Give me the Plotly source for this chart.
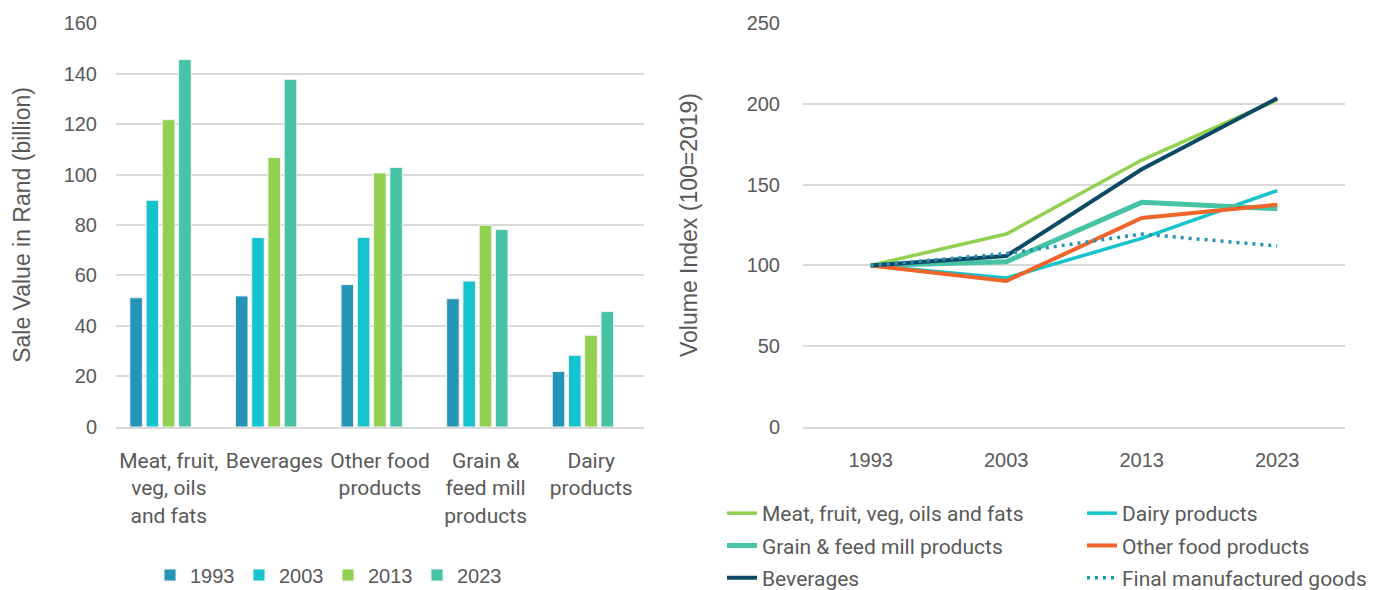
import plotly.graph_objects as go

# ---------------- data ----------------
categories = ["Meat, fruit,<br>veg, oils<br>and fats", "Beverages", "Other food<br>products",
              "Grain &<br>feed mill<br>products", "Dairy<br>products"]
bar_years = ["1993", "2003", "2013", "2023"]
sales_1993 = [51.2, 51.9, 56.4, 50.8, 22.0]
sales_2003 = [89.8, 75.0, 75.1, 57.8, 28.4]
sales_2013 = [121.7, 106.7, 100.6, 79.9, 36.3]
sales_2023 = [145.5, 137.7, 102.8, 78.2, 45.7]

line_years = ["1993", "2003", "2013", "2023"]
idx_meat = [100, 119.4, 165.2, 202.4]
idx_dairy = [100, 92.2, 116.7, 146.3]
idx_grain = [100, 102.3, 139.0, 135.1]
idx_other = [100, 90.3, 129.3, 137.6]
idx_bev = [100, 105.8, 159.5, 203.4]
idx_final = [100, 107.3, 119.4, 112.0]

# ---------------- styles ----------------
TXT = "#595959"
GRID = "#D9D9D9"
NUMFONT = "Liberation Sans"
LBLFONT = "Roboto"
bar_colors = ["#2694B6", "#14C3CD", "#92D050", "#45C3A4"]
bar_offsets = [-0.369, -0.215, -0.061, 0.093]
bar_width = 0.119

fig = go.Figure()

for name, vals, col, off in zip(bar_years, [sales_1993, sales_2003, sales_2013, sales_2023],
                                bar_colors, bar_offsets):
    fig.add_trace(go.Bar(x=categories, y=vals, name=name, marker=dict(color=col, line=dict(color="#F2F2F2", width=1)),
                         width=bar_width, offset=off, xaxis="x", yaxis="y", legend="legend",
                         hoverinfo="y+name"))

lines = [
    ("Meat, fruit, veg, oils and fats", idx_meat, "#92D050", 3.5, "solid", "legend2"),
    ("Dairy products", idx_dairy, "#14C3CD", 3.5, "solid", "legend3"),
    ("Grain & feed mill products", idx_grain, "#45C3A4", 5, "solid", "legend2"),
    ("Other food products", idx_other, "#F0642A", 4, "solid", "legend3"),
    ("Beverages", idx_bev, "#0E4A66", 4, "solid", "legend2"),
    ("Final manufactured goods", idx_final, "#2694B6", 3.5, "3px,5px", "legend3"),
]
for i, (name, vals, col, w, dash, lg) in enumerate(lines):
    fig.add_trace(go.Scatter(x=line_years, y=vals, name=name, mode="lines",
                             line=dict(color=col, width=w, dash=dash),
                             xaxis="x2", yaxis="y2", legend=lg, legendgroup=name,
                             legendrank=i))

ydom = [0.2763, 0.961]
fig.update_layout(
    width=1373, height=590,
    margin=dict(l=0, r=0, t=0, b=0, autoexpand=False),
    paper_bgcolor="white", plot_bgcolor="white",
    barmode="overlay",
    showlegend=True,
    font=dict(family=NUMFONT, size=20, color=TXT),
    xaxis=dict(domain=[116/1373, 644/1373], type="category", showgrid=False,
               showline=True, linecolor=GRID, linewidth=1.5,
               tickfont=dict(family=LBLFONT, size=21, color=TXT),
               ticks="", ticklabelstandoff=14, fixedrange=True),
    yaxis=dict(domain=ydom, range=[0, 160], dtick=20, showgrid=True, gridcolor=GRID, gridwidth=1.5,
               zeroline=False, showline=False, ticks="", ticklabelstandoff=18,
               tickfont=dict(family=NUMFONT, size=20, color=TXT),
               title=dict(text="Sale Value in Rand (billion)", standoff=26,
                          font=dict(family=NUMFONT, size=23, color=TXT))),
    xaxis2=dict(domain=[803/1373, 1345/1373], type="category", range=[-0.5, 3.5], showgrid=False,
                showline=True, linecolor=GRID, linewidth=1.5,
                tickfont=dict(family=NUMFONT, size=20, color=TXT),
                ticks="", ticklabelstandoff=14, anchor="y2"),
    yaxis2=dict(domain=ydom, range=[0, 250], dtick=50, showgrid=True, gridcolor=GRID, gridwidth=1.5,
                zeroline=False, showline=False, ticks="", ticklabelstandoff=22, anchor="x2",
                tickfont=dict(family=NUMFONT, size=20, color=TXT),
                title=dict(text="Volume Index (100=2019)", standoff=42,
                           font=dict(family=NUMFONT, size=23, color=TXT))),
    legend=dict(orientation="h", x=150/1373, xanchor="left", y=15/590, yanchor="middle",
                font=dict(family=NUMFONT, size=20, color=TXT), bgcolor="rgba(0,0,0,0)",
                entrywidth=44, itemclick=False),
    legend2=dict(orientation="v", x=722/1373, xanchor="left", y=1 - 493/590, yanchor="top",
                 font=dict(family=LBLFONT, size=21, color=TXT), bgcolor="rgba(0,0,0,0)",
                 tracegroupgap=2, itemclick=False),
    legend3=dict(orientation="v", x=1082/1373, xanchor="left", y=1 - 493/590, yanchor="top",
                 font=dict(family=LBLFONT, size=21, color=TXT), bgcolor="rgba(0,0,0,0)",
                 tracegroupgap=2, itemclick=False),
)

fig.write_html("out.html")
